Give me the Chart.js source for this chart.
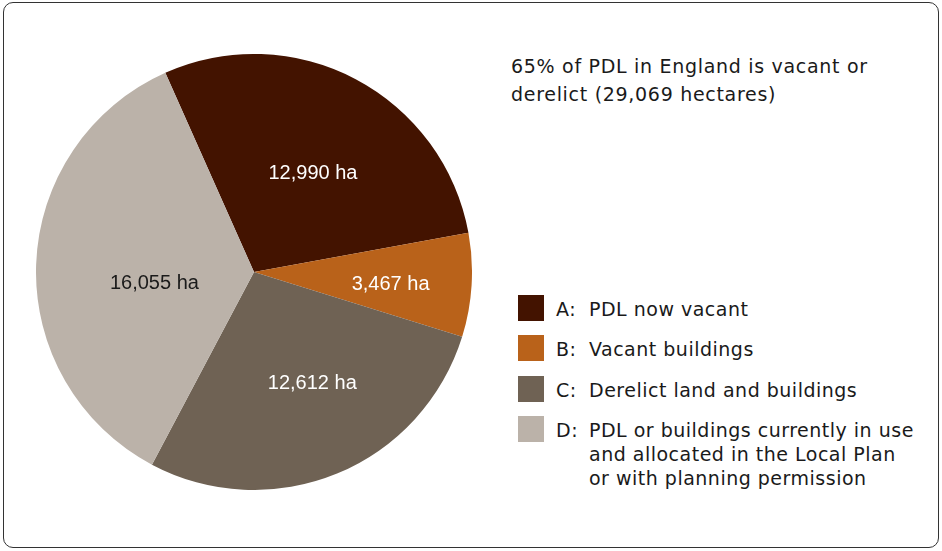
<!DOCTYPE html>
<html><head><meta charset="utf-8">
<script src="https://cdn.jsdelivr.net/npm/chart.js@4"></script>
<style>
html,body{margin:0;padding:0;background:#fff;}
body{width:942px;height:551px;position:relative;overflow:hidden;font-family:"DejaVu Sans",sans-serif;color:#1a1a1a;}
#frame{position:absolute;left:3px;top:2px;width:934px;height:544px;border:1.5px solid #333;border-radius:10px;}
#pie{position:absolute;left:36px;top:54px;width:436px;height:436px;}
#title{position:absolute;left:511px;top:52px;font-size:19px;line-height:28px;letter-spacing:0.7px;}
#legend{position:absolute;left:518px;top:295px;font-size:19px;letter-spacing:0.5px;}
.row{display:flex;align-items:flex-start;margin-bottom:14.3px;}
.sw{width:26px;height:26px;flex:none;margin-right:12px;}
.key{width:33px;flex:none;line-height:24px;margin-top:2px;}
.txt{line-height:24px;margin-top:2px;white-space:nowrap;}
</style></head><body>
<div id="frame"></div>
<div id="pie"><canvas id="c"></canvas></div>
<div id="title"></div>
<div id="legend"></div>
<script>
const keys = ["A:", "B:", "C:", "D:"];
const categories = [
  ["PDL now vacant"],
  ["Vacant buildings"],
  ["Derelict land and buildings"],
  ["PDL or buildings currently in use", "and allocated in the Local Plan", "or with planning permission"]
];
const values = [12990, 3467, 12612, 16055];
const valueLabels = ["12,990 ha", "3,467 ha", "12,612 ha", "16,055 ha"];
const titleLines = ["65% of PDL in England is vacant or", "derelict (29,069 hectares)"];
const colors = ["#431300", "#B9621A", "#6F6254", "#BBB2A9"];
const labelColors = ["#ffffff", "#ffffff", "#ffffff", "#1a1a1a"];
const labelFrac = [0.525, 0.629, 0.577, 0.46];
const labelAngleShift = [3.2, 1.6, -5.2, -8.8];

document.getElementById('title').innerHTML = titleLines.join('<br>');
const leg = document.getElementById('legend');
categories.forEach((lines, i) => {
  const row = document.createElement('div'); row.className = 'row';
  row.innerHTML = '<div class="sw" style="background:' + colors[i] + '"></div><div class="key">' + keys[i] + '</div><div class="txt">' + lines.join('<br>') + '</div>';
  leg.appendChild(row);
});

const sliceLabels = {
  id: 'sliceLabels',
  afterDatasetsDraw(chart) {
    const ctx = chart.ctx;
    const meta = chart.getDatasetMeta(0);
    ctx.save();
    ctx.font = '20px "Liberation Sans", Arial, sans-serif';
    ctx.textAlign = 'center';
    ctx.textBaseline = 'middle';
    meta.data.forEach((arc, i) => {
      const p = arc.getProps(['x', 'y', 'startAngle', 'endAngle', 'outerRadius'], true);
      const mid = (p.startAngle + p.endAngle) / 2 + labelAngleShift[i] * Math.PI / 180;
      const r = p.outerRadius * labelFrac[i];
      ctx.fillStyle = labelColors[i];
      ctx.fillText(valueLabels[i], p.x + Math.cos(mid) * r, p.y + Math.sin(mid) * r);
    });
    ctx.restore();
  }
};

new Chart(document.getElementById('c'), {
  type: 'pie',
  data: {
    labels: categories.map((l, i) => keys[i] + ' ' + l.join(' ')),
    datasets: [{ data: values, backgroundColor: colors, borderWidth: 0 }]
  },
  options: {
    responsive: true, maintainAspectRatio: false, animation: false,
    rotation: -24,
    layout: { padding: 0 },
    plugins: { legend: { display: false }, tooltip: { enabled: false } }
  },
  plugins: [sliceLabels]
});
</script>
</body></html>
